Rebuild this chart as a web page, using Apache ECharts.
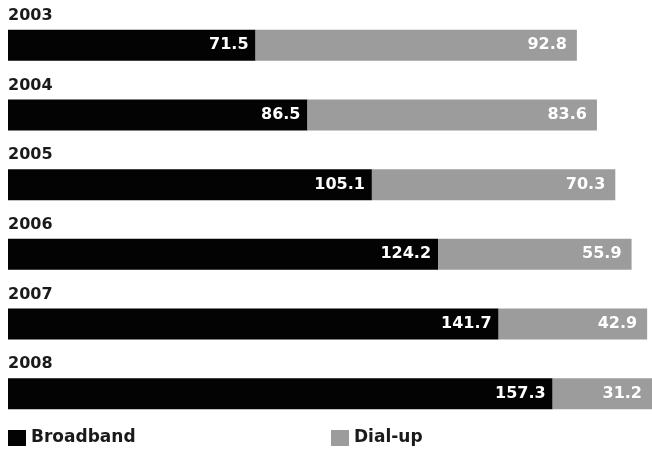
<!DOCTYPE html>
<html><head><meta charset="utf-8">
<script src="https://cdn.jsdelivr.net/npm/echarts@6/dist/echarts.min.js"></script>
<style>html,body{margin:0;padding:0;background:#fff}#c{width:652px;height:449px}</style>
</head><body><div id="c"></div>
<script>
var years = ['2003','2004','2005','2006','2007','2008'];
var broadband = [71.5, 86.5, 105.1, 124.2, 141.7, 157.3];
var dialup = [92.8, 83.6, 70.3, 55.9, 42.9, 31.2];
var FONT = 'DejaVu Sans';
var chart = echarts.init(document.getElementById('c'));
chart.setOption({
  animation: false,
  grid: {left: 8, right: 0, top: 10.5, height: 418},
  legend: [
    {data: [{name: 'Broadband', icon: 'rect'}], left: 8, top: 429.5, padding: 0, itemWidth: 18, itemHeight: 16,
     textStyle: {fontFamily: FONT, fontWeight: 'bold', fontSize: 17, color: '#1a1a1a'}},
    {data: [{name: 'Dial-up', icon: 'rect'}], left: 331, top: 429.5, padding: 0, itemWidth: 18, itemHeight: 16,
     textStyle: {fontFamily: FONT, fontWeight: 'bold', fontSize: 17, color: '#1a1a1a'}}
  ],
  xAxis: {type: 'value', min: 0, max: 186, show: false},
  yAxis: {type: 'category', data: years, inverse: true, show: false},
  series: [
    {name: 'Broadband', type: 'bar', stack: 't', data: broadband, barWidth: 31,
     itemStyle: {color: '#030303'},
     label: {show: true, position: 'insideRight', distance: 7, color: '#fff',
       fontFamily: FONT, fontWeight: 'bold', fontSize: 16}},
    {name: 'Dial-up', type: 'bar', stack: 't', data: dialup, barWidth: 31,
     itemStyle: {color: '#9c9c9c'},
     label: {show: true, position: 'insideRight', distance: 10, color: '#fff',
       fontFamily: FONT, fontWeight: 'bold', fontSize: 16}},
    {name: 'years', type: 'scatter', symbolSize: 0, silent: true,
     itemStyle: {opacity: 1},
     data: years.map(function (y) { return [0, y]; }),
     label: {show: true, position: 'right', distance: 0, offset: [0, -29.5], opacity: 1,
       formatter: function (p) { return p.value[1]; },
       fontFamily: FONT, fontWeight: 'bold', fontSize: 16, color: '#1a1a1a'}}
  ]
});
</script></body></html>
